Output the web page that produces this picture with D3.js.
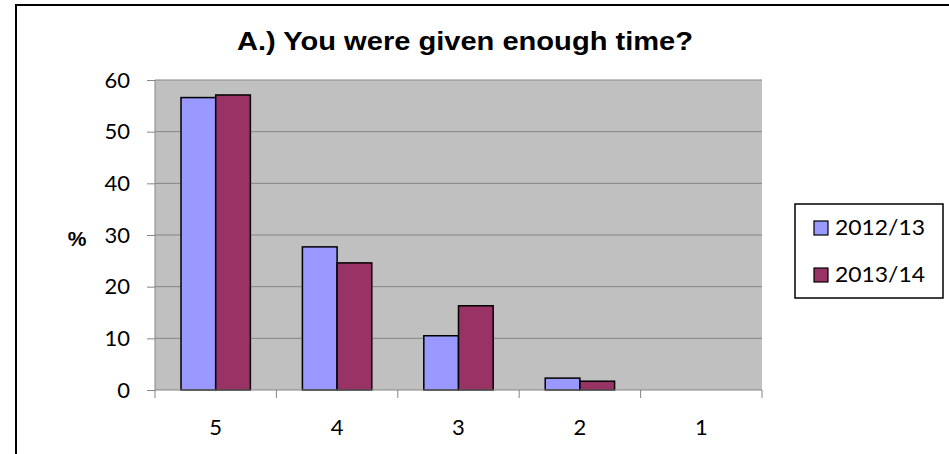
<!DOCTYPE html>
<html><head><meta charset="utf-8">
<script src="https://cdn.jsdelivr.net/npm/d3@7"></script>
<style>body{margin:0;background:#fff;}svg{display:block;}</style>
</head><body>
<svg id="c" width="949" height="454"></svg>
<script>
const categories = ["5","4","3","2","1"];
const seriesNames = ["2012/13","2013/14"];
const values2012 = [56.6, 27.7, 10.5, 2.3, 0];
const values2013 = [57.1, 24.6, 16.3, 1.7, 0];
const yTicks = [0,10,20,30,40,50,60];
const colors = ["#9999FF","#993366"];
const title = "A.) You were given enough time?";

const svg = d3.select("#c");
const font = "Lato, 'Open Sans', sans-serif";

// outer border
svg.append("rect").attr("x",16).attr("y",5).attr("width",960).attr("height",470)
  .attr("fill","#fff").attr("stroke","#000").attr("stroke-width",2);

const L=155, R=762, T=80, B=390;
const x = d3.scaleBand().domain(categories).range([L,R]).padding(0);
const y = d3.scaleLinear().domain([0,60]).range([B,T]);
const x1 = d3.scaleBand().domain(seriesNames).range([0,x.bandwidth()]).paddingInner(0).paddingOuter(0.75);

// plot bg
svg.append("rect").attr("x",L).attr("y",T).attr("width",R-L).attr("height",B-T).attr("fill","#C0C0C0");

// gridlines
svg.append("g").selectAll("line").data(yTicks.filter(d=>d>0)).join("line")
  .attr("x1",L).attr("x2",R).attr("y1",d=>y(d)).attr("y2",d=>y(d))
  .attr("stroke","#858585").attr("stroke-width",1);

// bars
const data = categories.map((c,i)=>({c, vals:[values2012[i], values2013[i]]}));
const g = svg.append("g");
data.forEach(d=>{
  d.vals.forEach((v,j)=>{
    if(v<=0) return;
    g.append("rect").attr("x",x(d.c)+x1(seriesNames[j])).attr("y",y(v))
      .attr("width",x1.bandwidth()).attr("height",y(0)-y(v))
      .attr("fill",colors[j]).attr("stroke","#000").attr("stroke-width",1.5);
  });
});

// y axis
const yAxis = d3.axisLeft(y).tickValues(yTicks).tickSize(8).tickPadding(17);
const ya = svg.append("g").attr("transform",`translate(${L},0)`).call(yAxis);
ya.select(".domain").attr("stroke","#858585").attr("d",`M0,${B}V${T}`);
ya.selectAll(".tick line").attr("stroke","#858585");
ya.selectAll(".tick text").attr("font-family",font).attr("font-size",22).attr("fill","#000");

// x axis
const xa = svg.append("g").attr("transform",`translate(0,${B})`);
xa.append("line").attr("x1",L).attr("x2",R).attr("stroke","#858585");
const bounds = categories.map(c=>x(c)).concat([R]);
xa.selectAll("line.t").data(bounds).join("line").attr("class","t")
  .attr("x1",d=>d).attr("x2",d=>d).attr("y1",0).attr("y2",8).attr("stroke","#858585");
xa.selectAll("text").data(categories).join("text")
  .attr("x",d=>x(d)+x.bandwidth()/2).attr("y",45)
  .attr("text-anchor","middle").attr("font-family",font).attr("font-size",22).text(d=>d);

// y label
svg.append("text").attr("x",77).attr("y",246).attr("text-anchor","middle")
  .attr("font-family","Liberation Sans, Arial, sans-serif").attr("font-weight","bold").attr("font-size",21).text("%");

// title
svg.append("text").attr("x",237).attr("y",50).attr("textLength",456).attr("lengthAdjust","spacingAndGlyphs")
  .attr("font-family","Liberation Sans, Arial, sans-serif").attr("font-weight","bold").attr("font-size",25).text(title);

// legend
const lg = svg.append("g");
lg.append("rect").attr("x",795).attr("y",204).attr("width",148).attr("height",94)
  .attr("fill","#fff").attr("stroke","#000").attr("stroke-width",1.5);
seriesNames.forEach((s,i)=>{
  const yy = 221 + i*47;
  lg.append("rect").attr("x",814).attr("y",yy).attr("width",14).attr("height",14)
    .attr("fill",colors[i]).attr("stroke","#000").attr("stroke-width",1.2);
  lg.append("text").attr("x",835).attr("y",yy+14).attr("font-family",font).attr("font-size",21)
    .attr("textLength",90).attr("lengthAdjust","spacingAndGlyphs").text(s);
});
</script>
</body></html>
